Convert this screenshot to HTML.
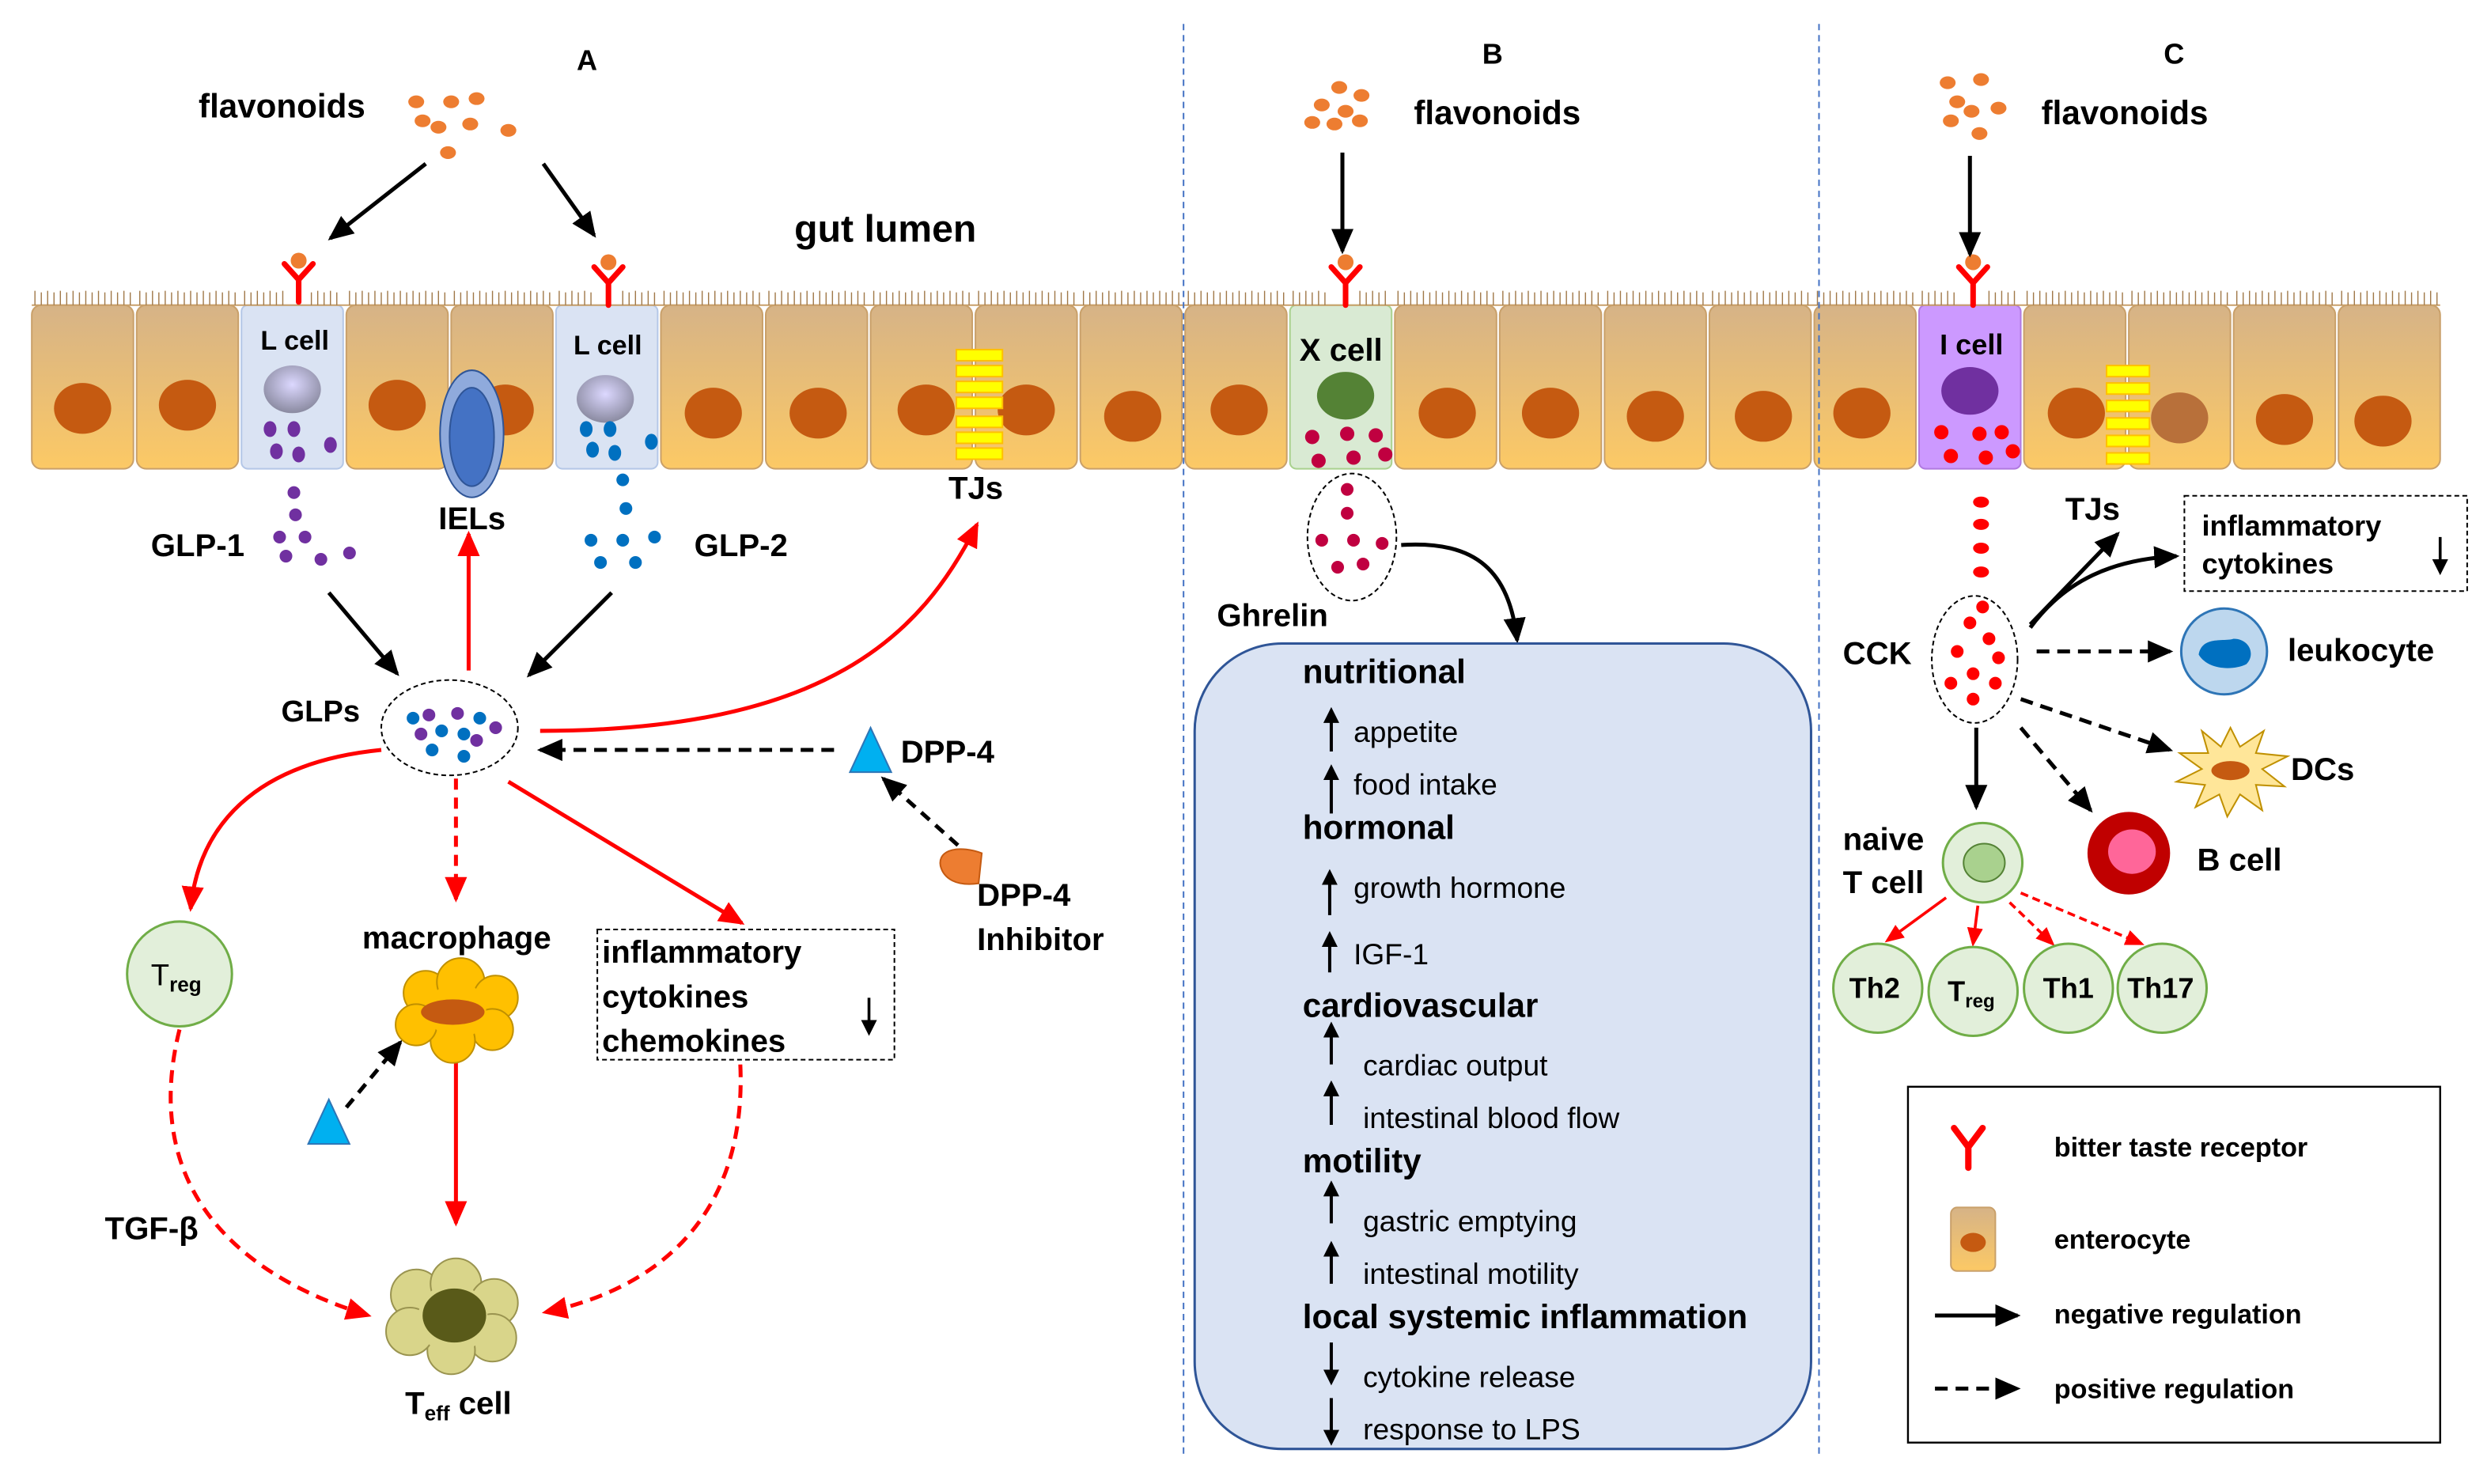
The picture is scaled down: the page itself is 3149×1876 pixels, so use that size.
<!DOCTYPE html>
<html><head><meta charset="utf-8"><style>html,body{margin:0;padding:0;background:#fff}svg{display:block}text{font-family:"Liberation Sans",Arial,sans-serif}</style></head>
<body>
<svg width="3149" height="1876" viewBox="0 0 1568 934" xmlns="http://www.w3.org/2000/svg">
<defs>
<linearGradient id="ent" x1="0" y1="0" x2="0" y2="1"><stop offset="0" stop-color="#d6b387"/><stop offset="1" stop-color="#fcc965"/></linearGradient>
<radialGradient id="nucG" cx="0.5" cy="0.4" r="0.6"><stop offset="0" stop-color="#dcd8ff"/><stop offset="1" stop-color="#8a8aa0"/></radialGradient>
<marker id="ab" markerWidth="10" markerHeight="10" refX="8" refY="5" orient="auto" markerUnits="userSpaceOnUse"><path d="M0,0 L10,5 L0,10 z" fill="#000"/></marker>
<marker id="abL" markerWidth="16" markerHeight="14" refX="14" refY="7" orient="auto" markerUnits="userSpaceOnUse"><path d="M0,0 L16,7 L0,14 z" fill="#000"/></marker>
<marker id="ar" markerWidth="16" markerHeight="14" refX="14" refY="7" orient="auto" markerUnits="userSpaceOnUse"><path d="M0,0 L16,7 L0,14 z" fill="#f00"/></marker>
<marker id="arS" markerWidth="12" markerHeight="10" refX="10" refY="5" orient="auto" markerUnits="userSpaceOnUse"><path d="M0,0 L12,5 L0,10 z" fill="#f00"/></marker>
</defs>
<rect width="1568" height="934" fill="#fff"/>

<g fill="url(#ent)" stroke="#c9a06a" stroke-width="1">
<rect x="20" y="192" width="64" height="103" rx="6"/>
<rect x="86" y="192" width="64" height="103" rx="6"/>
<rect x="218" y="192" width="64" height="103" rx="6"/>
<rect x="284" y="192" width="64" height="103" rx="6"/>
<rect x="416" y="192" width="64" height="103" rx="6"/>
<rect x="482" y="192" width="64" height="103" rx="6"/>
<rect x="548" y="192" width="64" height="103" rx="6"/>
<rect x="614" y="192" width="64" height="103" rx="6"/>
<rect x="680" y="192" width="64" height="103" rx="6"/>
<rect x="746" y="192" width="64" height="103" rx="6"/>
<rect x="878" y="192" width="64" height="103" rx="6"/>
<rect x="944" y="192" width="64" height="103" rx="6"/>
<rect x="1010" y="192" width="64" height="103" rx="6"/>
<rect x="1076" y="192" width="64" height="103" rx="6"/>
<rect x="1142" y="192" width="64" height="103" rx="6"/>
<rect x="1274" y="192" width="64" height="103" rx="6"/>
<rect x="1340" y="192" width="64" height="103" rx="6"/>
<rect x="1406" y="192" width="64" height="103" rx="6"/>
<rect x="1472" y="192" width="64" height="103" rx="6"/>
</g>
<rect x="152" y="192" width="64" height="103" rx="4" fill="#dae3f3" stroke="#b4c7e7"/>
<rect x="350" y="192" width="64" height="103" rx="4" fill="#dae3f3" stroke="#b4c7e7"/>
<rect x="812" y="192" width="64" height="103" rx="4" fill="#d9ead3" stroke="#a9d18e"/>
<rect x="1208" y="192" width="64" height="103" rx="4" fill="#cc99ff" stroke="#b07ae0"/>
<path d="M20,192 L1536,192" stroke="#c9a06a" stroke-width="1"/>
<g fill="#c55a11">
<ellipse cx="52" cy="257" rx="18" ry="16"/><ellipse cx="118" cy="255" rx="18" ry="16"/>
<ellipse cx="250" cy="255" rx="18" ry="16"/><ellipse cx="318" cy="258" rx="18" ry="16"/>
<ellipse cx="449" cy="260" rx="18" ry="16"/><ellipse cx="515" cy="260" rx="18" ry="16"/>
<ellipse cx="583" cy="258" rx="18" ry="16"/><ellipse cx="646" cy="258" rx="18" ry="16"/>
<ellipse cx="713" cy="262" rx="18" ry="16"/><ellipse cx="780" cy="258" rx="18" ry="16"/>
<ellipse cx="911" cy="260" rx="18" ry="16"/><ellipse cx="976" cy="260" rx="18" ry="16"/>
<ellipse cx="1042" cy="262" rx="18" ry="16"/><ellipse cx="1110" cy="262" rx="18" ry="16"/>
<ellipse cx="1172" cy="260" rx="18" ry="16"/><ellipse cx="1307" cy="260" rx="18" ry="16"/>
<ellipse cx="1372" cy="263" rx="18" ry="16" fill="#b8703a"/><ellipse cx="1438" cy="264" rx="18" ry="16"/>
<ellipse cx="1500" cy="265" rx="18" ry="16"/>
</g>

<g stroke="#a07848" stroke-width="0.7">
<path d="M22,192V183M26,192V184M30,192V183M34,192V184M38,192V183M42,192V184M46,192V183M50,192V184M54,192V183M58,192V184M62,192V183M66,192V184M70,192V183M74,192V184M78,192V183M82,192V184M88,192V183M92,192V184M96,192V183M100,192V184M104,192V183M108,192V184M112,192V183M116,192V184M120,192V183M124,192V184M128,192V183M132,192V184M136,192V183M140,192V184M144,192V183M148,192V184"/>
<path d="M154,192V183M158,192V184M162,192V183M166,192V184M170,192V183M174,192V184M178,192V183M196,192V184M200,192V183M204,192V184M208,192V183M212,192V184M220,192V183M224,192V184M228,192V183M232,192V184M236,192V183M240,192V184M244,192V183M248,192V184M252,192V183M256,192V184M260,192V183M264,192V184M268,192V183M272,192V184M276,192V183M280,192V184M286,192V183M290,192V184M294,192V183M298,192V184M302,192V183M306,192V184M310,192V183M314,192V184M318,192V183M322,192V184M326,192V183M330,192V184M334,192V183M338,192V184M342,192V183M346,192V184M352,192V183M356,192V184M360,192V183M364,192V184M368,192V183M372,192V184M392,192V183M396,192V184M400,192V183M404,192V184M408,192V183M412,192V184"/>
<path d="M418,192V183M422,192V184M426,192V183M430,192V184M434,192V183M438,192V184M442,192V183M446,192V184M450,192V183M454,192V184M458,192V183M462,192V184M466,192V183M470,192V184M474,192V183M478,192V184M484,192V183M488,192V184M492,192V183M496,192V184M500,192V183M504,192V184M508,192V183M512,192V184M516,192V183M520,192V184M524,192V183M528,192V184M532,192V183M536,192V184M540,192V183M544,192V184M550,192V183M554,192V184M558,192V183M562,192V184M566,192V183M570,192V184M574,192V183M578,192V184M582,192V183M586,192V184M590,192V183M594,192V184M598,192V183M602,192V184M606,192V183M610,192V184M616,192V183M620,192V184M624,192V183M628,192V184M632,192V183M636,192V184M640,192V183M644,192V184M648,192V183M652,192V184M656,192V183M660,192V184M664,192V183M668,192V184M672,192V183M676,192V184M682,192V183M686,192V184M690,192V183M694,192V184M698,192V183M702,192V184M706,192V183M710,192V184M714,192V183M718,192V184M722,192V183M726,192V184M730,192V183M734,192V184M738,192V183M742,192V184"/>
<path d="M748,192V183M752,192V184M756,192V183M760,192V184M764,192V183M768,192V184M772,192V183M776,192V184M780,192V183M784,192V184M788,192V183M792,192V184M796,192V183M800,192V184M804,192V183M808,192V184M814,192V183M818,192V184M822,192V183M826,192V184M830,192V183M834,192V184M856,192V183M860,192V184M864,192V183M868,192V184M872,192V183M880,192V183M884,192V184M888,192V183M892,192V184M896,192V183M900,192V184M904,192V183M908,192V184M912,192V183M916,192V184M920,192V183M924,192V184M928,192V183M932,192V184M936,192V183M940,192V184M946,192V183M950,192V184M954,192V183M958,192V184M962,192V183M966,192V184M970,192V183M974,192V184M978,192V183M982,192V184M986,192V183M990,192V184M994,192V183M998,192V184M1002,192V183M1006,192V184M1012,192V183M1016,192V184M1020,192V183M1024,192V184M1028,192V183M1032,192V184M1036,192V183M1040,192V184M1044,192V183M1048,192V184M1052,192V183M1056,192V184M1060,192V183M1064,192V184M1068,192V183M1072,192V184M1078,192V183M1082,192V184M1086,192V183M1090,192V184M1094,192V183M1098,192V184M1102,192V183M1106,192V184M1110,192V183M1114,192V184M1118,192V183M1122,192V184M1126,192V183M1130,192V184M1134,192V183M1138,192V184"/>
<path d="M1144,192V183M1148,192V184M1152,192V183M1156,192V184M1160,192V183M1164,192V184M1168,192V183M1172,192V184M1176,192V183M1180,192V184M1184,192V183M1188,192V184M1192,192V183M1196,192V184M1200,192V183M1204,192V184M1210,192V183M1214,192V184M1218,192V183M1222,192V184M1226,192V183M1230,192V184M1252,192V183M1256,192V184M1260,192V183M1264,192V184M1268,192V183M1276,192V183M1280,192V184M1284,192V183M1288,192V184M1292,192V183M1296,192V184M1300,192V183M1304,192V184M1308,192V183M1312,192V184M1316,192V183M1320,192V184M1324,192V183M1328,192V184M1332,192V183M1336,192V184M1342,192V183M1346,192V184M1350,192V183M1354,192V184M1358,192V183M1362,192V184M1366,192V183M1370,192V184M1374,192V183M1378,192V184M1382,192V183M1386,192V184M1390,192V183M1394,192V184M1398,192V183M1402,192V184M1408,192V183M1412,192V184M1416,192V183M1420,192V184M1424,192V183M1428,192V184M1432,192V183M1436,192V184M1440,192V183M1444,192V184M1448,192V183M1452,192V184M1456,192V183M1460,192V184M1464,192V183M1468,192V184M1474,192V183M1478,192V184M1482,192V183M1486,192V184M1490,192V183M1494,192V184M1498,192V183M1502,192V184M1506,192V183M1510,192V184M1514,192V183M1518,192V184M1522,192V183M1526,192V184M1530,192V183M1534,192V184"/>
</g>

<line x1="745" y1="15" x2="745" y2="915" stroke="#4472c4" stroke-width="1" stroke-dasharray="4,3"/>
<line x1="1145" y1="15" x2="1145" y2="915" stroke="#4472c4" stroke-width="1" stroke-dasharray="4,3"/>

<g font-weight="bold" font-size="18" fill="#000">
<text x="363" y="44">A</text><text x="933" y="40">B</text><text x="1362" y="40">C</text>
<text x="125" y="74" font-size="21">flavonoids</text>
<text x="890" y="78" font-size="21">flavonoids</text>
<text x="1285" y="78" font-size="21">flavonoids</text>
<text x="500" y="152" font-size="24">gut lumen</text>
</g>
<g fill="#ed7d31">
<ellipse cx="262" cy="64" rx="5" ry="4"/><ellipse cx="284" cy="64" rx="5" ry="4"/><ellipse cx="300" cy="62" rx="5" ry="4"/><ellipse cx="266" cy="76" rx="5" ry="4"/><ellipse cx="276" cy="80" rx="5" ry="4"/><ellipse cx="296" cy="78" rx="5" ry="4"/><ellipse cx="320" cy="82" rx="5" ry="4"/><ellipse cx="282" cy="96" rx="5" ry="4"/>
<ellipse cx="843" cy="55" rx="5" ry="4"/><ellipse cx="857" cy="60" rx="5" ry="4"/><ellipse cx="832" cy="66" rx="5" ry="4"/><ellipse cx="847" cy="70" rx="5" ry="4"/><ellipse cx="826" cy="77" rx="5" ry="4"/><ellipse cx="840" cy="78" rx="5" ry="4"/><ellipse cx="856" cy="76" rx="5" ry="4"/>
<ellipse cx="1226" cy="52" rx="5" ry="4"/><ellipse cx="1247" cy="50" rx="5" ry="4"/><ellipse cx="1232" cy="64" rx="5" ry="4"/><ellipse cx="1241" cy="70" rx="5" ry="4"/><ellipse cx="1258" cy="68" rx="5" ry="4"/><ellipse cx="1228" cy="76" rx="5" ry="4"/><ellipse cx="1246" cy="84" rx="5" ry="4"/>
</g>
<g stroke="#f00" stroke-width="3.5" fill="none" stroke-linecap="round">
<path d="M188,190V176M179,166L188,176L197,166"/>
<path d="M383,192V178M374,168L383,178L392,168"/>
<path d="M847,192V178M838,168L847,178L856,168"/>
<path d="M1242,192V178M1233,168L1242,178L1251,168"/>
</g>
<g fill="#ed7d31"><ellipse cx="188" cy="164" rx="5" ry="5"/><ellipse cx="383" cy="165" rx="5" ry="5"/><ellipse cx="847" cy="165" rx="5" ry="5"/><ellipse cx="1242" cy="165" rx="5" ry="5"/></g>
<g stroke="#000" stroke-width="2.5" marker-end="url(#abL)">
<line x1="268" y1="103" x2="208" y2="150"/><line x1="342" y1="103" x2="374" y2="148"/>
<line x1="845" y1="96" x2="845" y2="158"/><line x1="1240" y1="98" x2="1240" y2="160"/>
</g>

<text x="164" y="220" font-weight="bold" font-size="17">L cell</text>
<text x="361" y="223" font-weight="bold" font-size="17">L cell</text>
<ellipse cx="184" cy="245" rx="18" ry="15" fill="url(#nucG)"/>
<ellipse cx="381" cy="251" rx="18" ry="15" fill="url(#nucG)"/>
<g fill="#7030a0">
<ellipse cx="170" cy="270" rx="4" ry="5"/><ellipse cx="185" cy="270" rx="4" ry="5"/><ellipse cx="174" cy="284" rx="4" ry="5"/><ellipse cx="188" cy="286" rx="4" ry="5"/><ellipse cx="208" cy="280" rx="4" ry="5"/>
<ellipse cx="185" cy="310" rx="4" ry="4"/><ellipse cx="186" cy="324" rx="4" ry="4"/><ellipse cx="176" cy="338" rx="4" ry="4"/><ellipse cx="192" cy="338" rx="4" ry="4"/><ellipse cx="180" cy="350" rx="4" ry="4"/><ellipse cx="202" cy="352" rx="4" ry="4"/><ellipse cx="220" cy="348" rx="4" ry="4"/>
</g>
<g fill="#0070c0">
<ellipse cx="369" cy="270" rx="4" ry="5"/><ellipse cx="384" cy="270" rx="4" ry="5"/><ellipse cx="373" cy="283" rx="4" ry="5"/><ellipse cx="387" cy="285" rx="4" ry="5"/><ellipse cx="410" cy="278" rx="4" ry="5"/>
<ellipse cx="392" cy="302" rx="4" ry="4"/><ellipse cx="394" cy="320" rx="4" ry="4"/><ellipse cx="372" cy="340" rx="4" ry="4"/><ellipse cx="392" cy="340" rx="4" ry="4"/><ellipse cx="412" cy="338" rx="4" ry="4"/><ellipse cx="378" cy="354" rx="4" ry="4"/><ellipse cx="400" cy="354" rx="4" ry="4"/>
</g>
<ellipse cx="297" cy="273" rx="20" ry="40" fill="#8faadc" stroke="#2f5597"/>
<ellipse cx="297" cy="275" rx="14" ry="31" fill="#4472c4" stroke="#2f5597"/>
<g fill="#ffff00" stroke="#ffc000" stroke-width="1">
<rect x="602" y="220" width="29" height="7"/><rect x="602" y="230" width="29" height="7"/><rect x="602" y="240" width="29" height="7"/><rect x="602" y="250" width="29" height="7"/><rect x="602" y="262" width="29" height="7"/><rect x="602" y="272" width="29" height="7"/><rect x="602" y="282" width="29" height="7"/>
<rect x="1326" y="230" width="27" height="7"/><rect x="1326" y="241" width="27" height="7"/><rect x="1326" y="252" width="27" height="7"/><rect x="1326" y="263" width="27" height="7"/><rect x="1326" y="274" width="27" height="7"/><rect x="1326" y="285" width="27" height="7"/>
</g>

<g font-weight="bold" font-size="20">
<text x="95" y="350">GLP-1</text><text x="276" y="333">IELs</text><text x="437" y="350">GLP-2</text><text x="597" y="314">TJs</text>
<text x="177" y="454" font-size="19">GLPs</text>
<text x="567" y="480">DPP-4</text><text x="615" y="570">DPP-4</text><text x="615" y="598">Inhibitor</text>
<text x="228" y="597">macrophage</text>
<text x="379" y="606">inflammatory</text><text x="379" y="634">cytokines</text><text x="379" y="662">chemokines</text>
<text x="66" y="780">TGF-β</text>
<text x="255" y="890">T<tspan font-size="13" dy="4">eff</tspan><tspan dy="-4"> cell</tspan></text>
</g>
<g stroke="#000" stroke-width="2.5" fill="none">
<line x1="207" y1="373" x2="250" y2="424" marker-end="url(#abL)"/>
<line x1="385" y1="373" x2="333" y2="425" marker-end="url(#abL)"/>
<line x1="525" y1="472" x2="340" y2="472" stroke-dasharray="8,5" marker-end="url(#abL)"/>
<line x1="603" y1="532" x2="556" y2="490" stroke-dasharray="7,5" marker-end="url(#abL)"/>
<line x1="218" y1="697" x2="252" y2="656" stroke-dasharray="7,5" marker-end="url(#abL)"/>
</g>
<g stroke="#f00" stroke-width="2.5" fill="none">
<line x1="295" y1="422" x2="295" y2="336" marker-end="url(#ar)"/>
<path d="M340,460 C520,460 580,400 615,330" marker-end="url(#ar)"/>
<path d="M240,472 C160,480 125,520 120,572" marker-end="url(#ar)"/>
<line x1="287" y1="490" x2="287" y2="566" stroke-dasharray="7,5" marker-end="url(#ar)"/>
<line x1="320" y1="492" x2="467" y2="581" marker-end="url(#ar)"/>
<line x1="287" y1="665" x2="287" y2="770" marker-end="url(#ar)"/>
<path d="M113,648 C90,740 140,800 232,828" stroke-dasharray="8,5" marker-end="url(#ar)"/>
<path d="M466,670 C470,760 420,810 343,826" stroke-dasharray="8,5" marker-end="url(#ar)"/>
</g>
<ellipse cx="283" cy="458" rx="43" ry="30" fill="none" stroke="#000" stroke-dasharray="3,2"/>
<g fill="#7030a0"><ellipse cx="270" cy="450" rx="4" ry="4"/><ellipse cx="288" cy="449" rx="4" ry="4"/><ellipse cx="265" cy="462" rx="4" ry="4"/><ellipse cx="300" cy="466" rx="4" ry="4"/><ellipse cx="312" cy="458" rx="4" ry="4"/></g>
<g fill="#0070c0"><ellipse cx="278" cy="460" rx="4" ry="4"/><ellipse cx="292" cy="462" rx="4" ry="4"/><ellipse cx="302" cy="452" rx="4" ry="4"/><ellipse cx="260" cy="452" rx="4" ry="4"/><ellipse cx="272" cy="472" rx="4" ry="4"/><ellipse cx="292" cy="476" rx="4" ry="4"/></g>
<polygon points="548,458 561,486 535,486" fill="#00b0f0" stroke="#2e75b6"/>
<polygon points="207,692 220,720 194,720" fill="#00b0f0" stroke="#2e75b6"/>
<path d="M592,545 C590,534 605,532 618,537 L616,556 C602,558 594,553 592,545 z" fill="#ed7d31" stroke="#c55a11"/>
<circle cx="113" cy="613" r="33" fill="#e2efda" stroke="#70ad47" stroke-width="1.5"/>
<text x="95" y="620" font-size="19">T<tspan font-size="13" dy="4" font-weight="bold">reg</tspan></text>
<g fill="#ffc000" stroke="#c09000">
<circle cx="268" cy="625" r="14"/><circle cx="290" cy="618" r="15"/><circle cx="312" cy="628" r="14"/><circle cx="310" cy="648" r="13"/><circle cx="285" cy="655" r="14"/><circle cx="262" cy="645" r="13"/><circle cx="288" cy="636" r="18" stroke="none"/>
</g>
<ellipse cx="285" cy="637" rx="20" ry="8" fill="#c55a11"/>
<g fill="#d9d58a" stroke="#9a9450">
<circle cx="262" cy="815" r="16"/><circle cx="287" cy="808" r="16"/><circle cx="311" cy="820" r="15"/><circle cx="310" cy="842" r="15"/><circle cx="284" cy="850" r="15"/><circle cx="258" cy="838" r="15"/><circle cx="285" cy="830" r="22" stroke="none"/>
</g>
<ellipse cx="286" cy="828" rx="20" ry="17" fill="#595a19"/>
<rect x="376" y="585" width="187" height="82" fill="none" stroke="#000" stroke-dasharray="3,2"/>
<line x1="547" y1="628" x2="547" y2="650" stroke="#000" stroke-width="1.8" marker-end="url(#ab)"/>

<text x="818" y="227" font-weight="bold" font-size="20">X cell</text>
<ellipse cx="847" cy="249" rx="18" ry="15" fill="#548235"/>
<g fill="#c00040">
<circle cx="826" cy="275" r="4.5"/><circle cx="848" cy="273" r="4.5"/><circle cx="866" cy="274" r="4.5"/><circle cx="830" cy="290" r="4.5"/><circle cx="852" cy="288" r="4.5"/><circle cx="872" cy="286" r="4.5"/>
<circle cx="848" cy="308" r="4"/><circle cx="848" cy="323" r="4"/><circle cx="832" cy="340" r="4"/><circle cx="852" cy="340" r="4"/><circle cx="870" cy="342" r="4"/><circle cx="842" cy="357" r="4"/><circle cx="858" cy="355" r="4"/>
</g>
<ellipse cx="851" cy="338" rx="28" ry="40" fill="none" stroke="#000" stroke-dasharray="3,2"/>
<text x="766" y="394" font-weight="bold" font-size="20">Ghrelin</text>
<path d="M882,343 C930,340 950,360 955,403" stroke="#000" stroke-width="2.5" fill="none" marker-end="url(#abL)"/>
<rect x="752" y="405" width="388" height="507" rx="55" fill="#dae3f3" stroke="#2f5597" stroke-width="1.5"/>
<g font-size="18.5">
<text x="820" y="430" font-weight="bold" font-size="21">nutritional</text>
<text x="852" y="467">appetite</text><text x="852" y="500">food intake</text>
<text x="820" y="528" font-weight="bold" font-size="21">hormonal</text>
<text x="852" y="565">growth hormone</text><text x="852" y="607">IGF-1</text>
<text x="820" y="640" font-weight="bold" font-size="21">cardiovascular</text>
<text x="858" y="677">cardiac output</text><text x="858" y="710">intestinal blood flow</text>
<text x="820" y="738" font-weight="bold" font-size="21">motility</text>
<text x="858" y="775">gastric emptying</text><text x="858" y="808">intestinal motility</text>
<text x="820" y="836" font-weight="bold" font-size="21">local systemic inflammation</text>
<text x="858" y="873">cytokine release</text><text x="858" y="906">response to LPS</text>
</g>
<g stroke="#000" stroke-width="2" marker-end="url(#ab)">
<line x1="838" y1="473" x2="838" y2="447"/><line x1="838" y1="512" x2="838" y2="483"/>
<line x1="837" y1="576" x2="837" y2="549"/><line x1="837" y1="612" x2="837" y2="588"/>
<line x1="838" y1="670" x2="838" y2="645"/><line x1="838" y1="708" x2="838" y2="682"/>
<line x1="838" y1="770" x2="838" y2="745"/><line x1="838" y1="808" x2="838" y2="783"/>
<line x1="838" y1="845" x2="838" y2="870"/><line x1="838" y1="880" x2="838" y2="908"/>
</g>

<text x="1221" y="223" font-weight="bold" font-size="18">I cell</text>
<ellipse cx="1240" cy="246" rx="18" ry="15" fill="#7030a0"/>
<g fill="#f00">
<circle cx="1222" cy="272" r="4.5"/><circle cx="1246" cy="273" r="4.5"/><circle cx="1260" cy="272" r="4.5"/><circle cx="1228" cy="287" r="4.5"/><circle cx="1250" cy="288" r="4.5"/><circle cx="1267" cy="284" r="4.5"/>
<ellipse cx="1247" cy="316" rx="5" ry="3.5"/><ellipse cx="1247" cy="330" rx="5" ry="3.5"/><ellipse cx="1247" cy="345" rx="5" ry="3.5"/><ellipse cx="1247" cy="360" rx="5" ry="3.5"/>
<circle cx="1240" cy="392" r="4"/><circle cx="1252" cy="402" r="4"/><circle cx="1232" cy="410" r="4"/><circle cx="1258" cy="414" r="4"/><circle cx="1242" cy="424" r="4"/><circle cx="1228" cy="430" r="4"/><circle cx="1256" cy="430" r="4"/><circle cx="1242" cy="440" r="4"/><circle cx="1248" cy="382" r="4"/>
</g>
<ellipse cx="1243" cy="415" rx="27" ry="40" fill="none" stroke="#000" stroke-dasharray="3,2"/>
<g font-weight="bold" font-size="20">
<text x="1160" y="418">CCK</text><text x="1300" y="327">TJs</text>
<text x="1386" y="337" font-size="18">inflammatory</text><text x="1386" y="361" font-size="18">cytokines</text>
<text x="1440" y="416">leukocyte</text><text x="1442" y="491">DCs</text><text x="1383" y="548">B cell</text>
<text x="1160" y="535">naive</text><text x="1160" y="562">T cell</text>
</g>
<rect x="1375" y="312" width="178" height="60" fill="none" stroke="#000" stroke-dasharray="3,2"/>
<line x1="1536" y1="338" x2="1536" y2="360" stroke="#000" stroke-width="1.8" marker-end="url(#ab)"/>
<g stroke="#000" stroke-width="2.5" fill="none">
<line x1="1278" y1="393" x2="1333" y2="336" marker-end="url(#abL)"/>
<path d="M1278,395 C1300,365 1330,352 1370,350" marker-end="url(#abL)"/>
<line x1="1282" y1="410" x2="1366" y2="410" stroke-dasharray="8,5" marker-end="url(#abL)"/>
<line x1="1272" y1="440" x2="1366" y2="472" stroke-dasharray="8,5" marker-end="url(#abL)"/>
<line x1="1272" y1="458" x2="1316" y2="510" stroke-dasharray="8,5" marker-end="url(#abL)"/>
<line x1="1244" y1="458" x2="1244" y2="508" marker-end="url(#abL)"/>
</g>
<circle cx="1400" cy="410" r="27" fill="#bdd7ee" stroke="#2e75b6" stroke-width="1.5"/>
<path d="M1384,412 C1386,400 1400,404 1406,402 C1416,402 1420,412 1414,418 C1406,422 1390,422 1384,412 z" fill="#0070c0"/>
<polygon points="1404,458 1410,470 1425,460 1420,474 1440,476 1424,484 1438,495 1420,494 1424,510 1410,500 1402,514 1397,500 1382,508 1388,494 1370,492 1386,484 1372,474 1390,474 1386,460 1398,470" fill="#ffe699" stroke="#c09000"/>
<ellipse cx="1404" cy="485" rx="12" ry="6" fill="#c55a11"/>
<circle cx="1340" cy="537" r="26" fill="#c00000"/>
<ellipse cx="1342" cy="536" rx="15" ry="14" fill="#ff6699"/>
<circle cx="1248" cy="543" r="25" fill="#e2efda" stroke="#70ad47" stroke-width="1.5"/>
<ellipse cx="1249" cy="543" rx="13" ry="12" fill="#a9d18e" stroke="#548235"/>
<g stroke="#f00" stroke-width="1.8" fill="none">
<line x1="1225" y1="565" x2="1188" y2="592" marker-end="url(#arS)"/>
<line x1="1245" y1="570" x2="1242" y2="594" marker-end="url(#arS)"/>
<line x1="1265" y1="568" x2="1292" y2="594" stroke-dasharray="5,3" marker-end="url(#arS)"/>
<line x1="1272" y1="562" x2="1348" y2="594" stroke-dasharray="5,3" marker-end="url(#arS)"/>
</g>
<g fill="#e2efda" stroke="#70ad47" stroke-width="1.5">
<circle cx="1182" cy="622" r="28"/><circle cx="1242" cy="624" r="28"/><circle cx="1302" cy="622" r="28"/><circle cx="1361" cy="622" r="28"/>
</g>
<g font-weight="bold" font-size="18">
<text x="1164" y="628">Th2</text><text x="1226" y="630">T<tspan font-size="12" dy="4">reg</tspan></text><text x="1286" y="628">Th1</text><text x="1339" y="628">Th17</text>
</g>
<rect x="1201" y="684" width="335" height="224" fill="#fff" stroke="#000" stroke-width="1.2"/>
<path d="M1239,735V722M1230,710L1239,722L1248,710" stroke="#f00" stroke-width="4" fill="none" stroke-linecap="round"/>
<rect x="1228" y="760" width="28" height="40" rx="4" fill="url(#ent)" stroke="#c9a06a"/>
<ellipse cx="1242" cy="782" rx="8" ry="6" fill="#c55a11"/>
<line x1="1218" y1="828" x2="1270" y2="828" stroke="#000" stroke-width="2.5" marker-end="url(#abL)"/>
<line x1="1218" y1="874" x2="1270" y2="874" stroke="#000" stroke-width="2.5" stroke-dasharray="8,5" marker-end="url(#abL)"/>
<g font-weight="bold" font-size="17">
<text x="1293" y="728">bitter taste receptor</text><text x="1293" y="786">enterocyte</text>
<text x="1293" y="833">negative regulation</text><text x="1293" y="880">positive regulation</text>
</g>
</svg>
</body></html>
